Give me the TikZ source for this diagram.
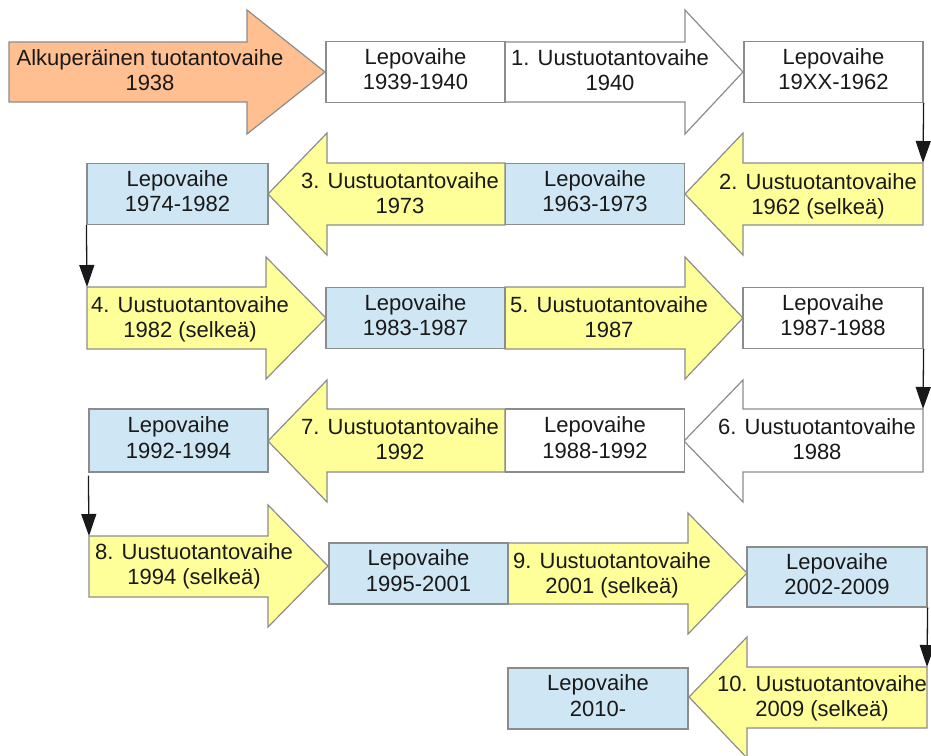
\documentclass[tikz,border=0pt]{standalone}
\usepackage{fontspec}
\setmainfont{Liberation Sans}
\usetikzlibrary{arrows.meta}
\definecolor{peach}{RGB}{255,191,145}
\definecolor{paleyellow}{RGB}{255,255,153}
\definecolor{paleblue}{RGB}{207,231,245}
\definecolor{edgegray}{RGB}{140,140,140}
\newcommand\phasetext[2]{\strut#1\\\strut#2}

\begin{document}
\begin{tikzpicture}[x=1pt,y=-1pt,
  every node/.style={font=\fontsize{22}{25.3}\selectfont, align=center, inner sep=0pt, text=black!90},
  shapeline/.style={draw=edgegray, line width=1.2pt, line join=miter},
  restbox/.style={shapeline, rectangle, minimum width=179pt, minimum height=61pt},
  restwhite/.style={restbox, fill=white},
  restblue/.style={restbox, fill=paleblue},
  prodorange/.style={shapeline, fill=peach},
  prodyellow/.style={shapeline, fill=paleyellow},
  prodwhite/.style={shapeline, fill=white},
  link/.style={draw=black!90, line width=1.3pt, -{Triangle[length=22pt,width=15pt]}}]

\useasboundingbox (0,0) rectangle (931,755);

% ---- block arrows (production phases) ----
% row 1
\draw[prodorange] (9,42) -- (247,42) -- (247,10) -- (325,72) -- (247,134) -- (247,102) -- (9,102) -- cycle;
\draw[prodwhite] (505,42) -- (685,42) -- (685,10) -- (743,72) -- (685,134) -- (685,102) -- (505,102) -- cycle;
% row 2
\draw[prodyellow] (923,163) coordinate (a2tr) -- (743,163) -- (743,133) -- (685,194) -- (743,255) -- (743,225) -- (923,225) -- cycle;
\draw[prodyellow] (505,163) -- (327,163) -- (327,133) -- (268,194) -- (327,255) -- (327,225) -- (505,225) -- cycle;
% row 3
\draw[prodyellow] (87,287) coordinate (a4tl) -- (266,287) -- (266,257) -- (326,318) -- (266,379) -- (266,349) -- (87,349) -- cycle;
\draw[prodyellow] (505,287) -- (685,287) -- (685,257) -- (743,318) -- (685,379) -- (685,349) -- (505,349) -- cycle;
% row 4
\draw[prodwhite] (923,409) coordinate (a6tr) -- (743,409) -- (743,380) -- (684,441) -- (743,502) -- (743,472) -- (923,472) -- cycle;
\draw[prodyellow] (505,409) -- (327,409) -- (327,380) -- (268,441) -- (327,502) -- (327,472) -- (505,472) -- cycle;
% row 5
\draw[prodyellow] (89,536) coordinate (a8tl) -- (268,536) -- (268,505) -- (328,566) -- (268,627) -- (268,597) -- (89,597) -- cycle;
\draw[prodyellow] (508,543) -- (688,543) -- (688,513) -- (747,573) -- (688,634) -- (688,604) -- (508,604) -- cycle;
% row 6
\draw[prodyellow] (927,667) coordinate (a10tr) -- (747,667) -- (747,637) -- (689,697) -- (747,758) -- (747,728) -- (927,728) -- cycle;

% ---- phase labels on the block arrows ----
\node (t0)  at (150,73)  {\phasetext{Alkuperäinen tuotantovaihe}{1938}};
\node (t1)  at (610,73)  {\phasetext{1. Uustuotantovaihe}{1940}};
\node (t2)  at (818,197) {\phasetext{2. Uustuotantovaihe}{1962 (selkeä)}};
\node (t3)  at (400,196) {\phasetext{3. Uustuotantovaihe}{1973}};
\node (t4)  at (190,320) {\phasetext{4. Uustuotantovaihe}{1982 (selkeä)}};
\node (t5)  at (609,320) {\phasetext{5. Uustuotantovaihe}{1987}};
\node (t6)  at (817,442) {\phasetext{6. Uustuotantovaihe}{1988}};
\node (t7)  at (400,442) {\phasetext{7. Uustuotantovaihe}{1992}};
\node (t8)  at (194,567) {\phasetext{8. Uustuotantovaihe}{1994 (selkeä)}};
\node (t9)  at (612,576) {\phasetext{9. Uustuotantovaihe}{2001 (selkeä)}};
\node (t10) at (822,699) {\phasetext{10. Uustuotantovaihe}{2009 (selkeä)}};

% ---- rest phases ----
\node[restwhite] (r1)  at (415.5,72)  {\phasetext{Lepovaihe}{1939-1940}};
\node[restwhite] (r2)  at (833.5,72)  {\phasetext{Lepovaihe}{19XX-1962}};
\node[restblue]  (r3)  at (595,194)   {\phasetext{Lepovaihe}{1963-1973}};
\node[restblue, minimum width=181pt] (r4) at (177.5,194) {\phasetext{Lepovaihe}{1974-1982}};
\node[restblue]  (r5)  at (415.5,318) {\phasetext{Lepovaihe}{1983-1987}};
\node[restwhite, minimum width=180pt] (r6) at (833,318) {\phasetext{Lepovaihe}{1987-1988}};
\node[restwhite, minimum height=63pt] (r7) at (595,440.5) {\phasetext{Lepovaihe}{1988-1992}};
\node[restblue, minimum height=63pt]  (r8) at (178.5,440.5) {\phasetext{Lepovaihe}{1992-1994}};
\node[restblue]  (r9)  at (418.5,573.5) {\phasetext{Lepovaihe}{1995-2001}};
\node[restblue, minimum width=180pt, minimum height=60pt] (r10) at (837,577) {\phasetext{Lepovaihe}{2002-2009}};
\node[restblue, minimum width=180pt] (r11) at (598,698.5) {\phasetext{Lepovaihe}{2010-}};

% ---- row-to-row connectors ----
\draw[link] (r2.south east) -- (a2tr);
\draw[link] (r4.south west) -- (a4tl);
\draw[link] (r6.south east) -- (a6tr);
\draw[link] ([yshift=-3pt]r8.south west) -- (a8tl);
\draw[link] (r10.south east) -- (a10tr);
\end{tikzpicture}
\end{document}
